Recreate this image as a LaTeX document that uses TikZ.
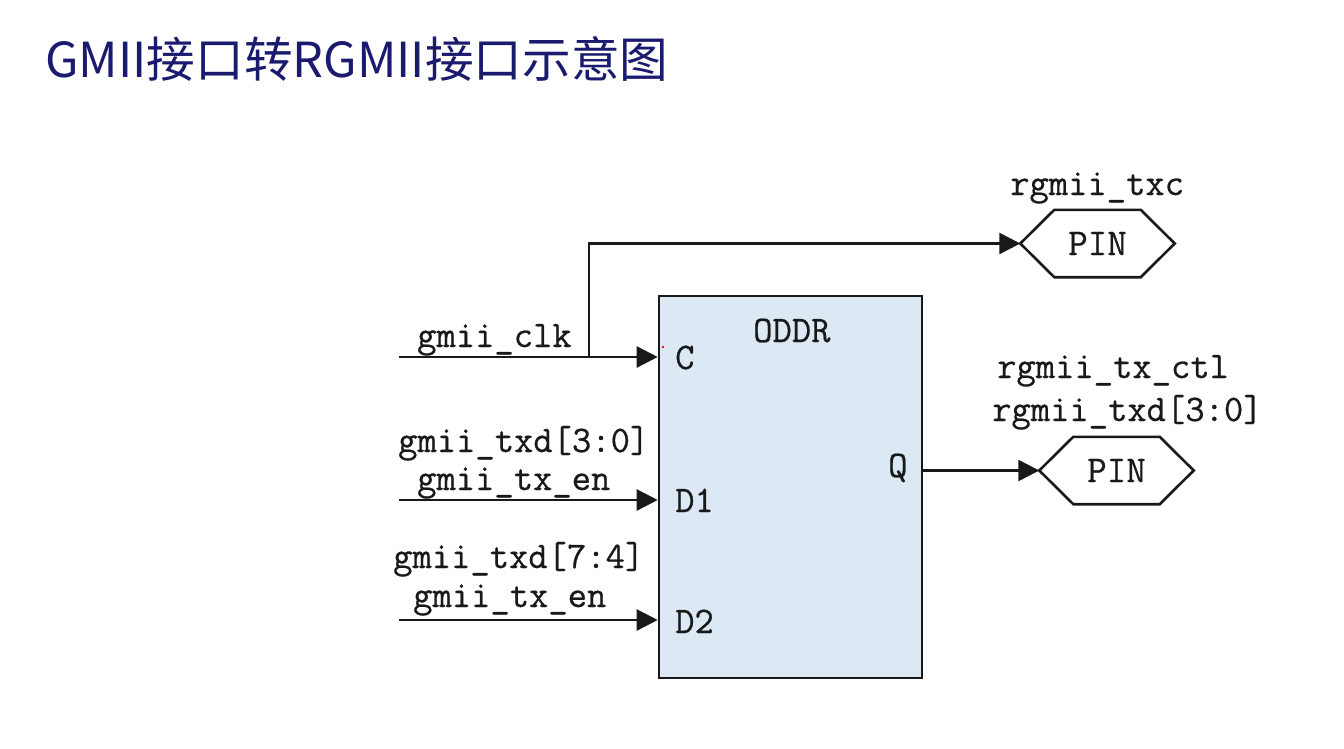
\documentclass[tikz,border=0pt]{standalone}
\usepackage{fontspec}
\usepackage{graphicx}
\newfontfamily\cjk{Noto Sans CJK SC}
\newfontface\lblfont{Latin Modern Mono}[FakeBold=0.6]
\usetikzlibrary{arrows.meta,calc}
\definecolor{titleblue}{RGB}{26,26,110}
\definecolor{boxfill}{RGB}{220,233,245}
\definecolor{ink}{RGB}{25,25,25}
\tikzset{
  lbl/.style={anchor=base west, inner sep=0pt, text=ink, font=\lblfont\fontsize{37.5}{40}\selectfont},
  wire/.style={draw=ink, line width=2.4pt},
  arr/.style={wire, -{Triangle[length=21pt,width=21pt]}},
  oddrbox/.style={draw=ink, fill=boxfill, line width=2.6pt, minimum width=263pt, minimum height=382pt, inner sep=0pt},
  pincore/.style={minimum width=86pt, minimum height=67pt, inner sep=0pt, text=ink, font=\lblfont\fontsize{38}{40}\selectfont},
  hex/.style={draw=ink, line width=2.6pt, line join=miter},
}
\begin{document}
\begin{tikzpicture}[x=1pt,y=-1pt]
\useasboundingbox[fill=white] (0,0) rectangle (1344,749);
% title
\node[anchor=base west, inner sep=0pt, text=titleblue] (title) at (45,78)
  {\resizebox{623pt}{41pt}{\cjk GMII接口转RGMII接口示意图}};
% ODDR block
\node[oddrbox] (oddr) at (790.5,487) {};
\node[lbl] (oddrname) at (753,342) {ODDR};
\node[lbl] (portc) at (675,369) {C};
\node[lbl] (portd1) at (675,512) {D1};
\node[lbl] (portd2) at (675,633) {D2};
\node[lbl] (portq) at (888,477) {Q};
\fill[red] (663,347) circle (1.3pt);
% PIN blocks
\node[pincore] (pin1) at (1097.5,243.5) {PIN};
\node[pincore] (pin2) at (1116.5,470.5) {PIN};
\foreach \p in {pin1,pin2}{
  \draw[hex] (\p.north west) -- (\p.north east) -- ($(\p.east)+(34,0)$)
    -- (\p.south east) -- (\p.south west) -- ($(\p.west)+(-34,0)$) -- cycle;
}
\coordinate (pin1tip) at ($(pin1.west)+(-34,0)$);
\coordinate (pin2tip) at ($(pin2.west)+(-34,0)$);
% wires
\coordinate (clkin) at (399,357);
\coordinate (branch) at (589,357);
\coordinate (d1in) at (399,500);
\coordinate (d2in) at (399,620);
\draw[arr] (clkin) -- (clkin -| oddr.west);
\draw[arr] (branch) |- (pin1tip);
\draw[arr] (d1in) -- (d1in -| oddr.west);
\draw[arr] (d2in) -- (d2in -| oddr.west);
\draw[arr] (oddr.east |- pin2tip) -- (pin2tip);
% labels
\node[lbl] (lclk) at (417,347) {gmii\_clk};
\node[lbl] (ltxd30) at (398,452) {gmii\_txd[3:0]};
\node[lbl] (len1) at (417,490) {gmii\_tx\_en};
\node[lbl] (ltxd74) at (393,568) {gmii\_txd[7:4]};
\node[lbl] (len2) at (413,607) {gmii\_tx\_en};
\node[lbl] (ltxc) at (1010,195) {rgmii\_txc};
\node[lbl] (lctl) at (997,378) {rgmii\_tx\_ctl};
\node[lbl] (ltxd) at (992,421) {rgmii\_txd[3:0]};
\end{tikzpicture}
\end{document}
